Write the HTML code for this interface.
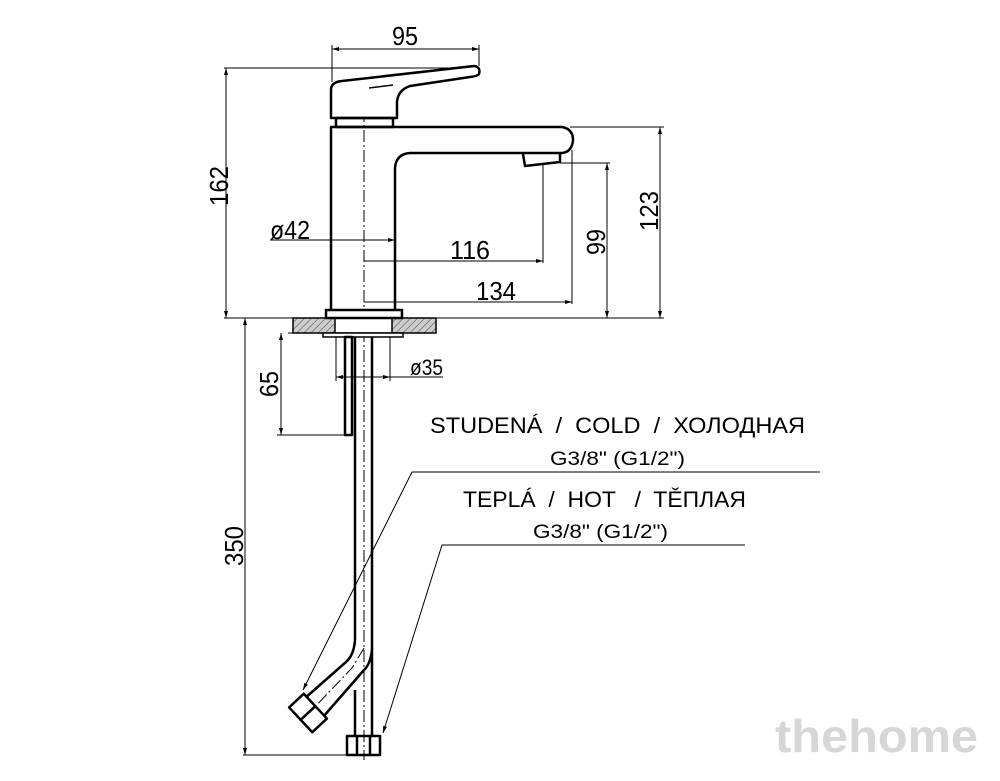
<!DOCTYPE html>
<html><head><meta charset="utf-8"><style>
html,body{margin:0;padding:0;background:#fff;}
svg{display:block;}
text{font-family:"Liberation Sans","DejaVu Sans",sans-serif;fill:#000;}
</style></head><body>
<svg width="1000" height="781" viewBox="0 0 1000 781" xmlns="http://www.w3.org/2000/svg">
<defs>
<pattern id="h" width="5" height="5" patternUnits="userSpaceOnUse" patternTransform="rotate(45)">
<rect width="5" height="5" fill="#ccc"/><line x1="0" y1="0" x2="0" y2="5" stroke="#555" stroke-width="1.2"/></pattern>
<marker id="a" markerWidth="8" markerHeight="8" refX="7" refY="4" orient="auto-start-reverse" markerUnits="userSpaceOnUse"><path d="M0,2 L7,4 L0,6z" fill="#000"/></marker>
</defs>
<g fill="none" stroke="#000" stroke-width="1">
<line x1="332" y1="49" x2="479" y2="49" marker-start="url(#a)" marker-end="url(#a)"/>
<line x1="332" y1="45" x2="332" y2="82"/><line x1="479" y1="45" x2="479" y2="66"/>
<line x1="224" y1="68" x2="478" y2="68"/>
<line x1="226" y1="68" x2="226" y2="318" marker-start="url(#a)" marker-end="url(#a)"/>
<line x1="224" y1="318" x2="664" y2="318"/>
<line x1="570" y1="127" x2="664" y2="127"/>
<line x1="660" y1="127" x2="660" y2="318" marker-start="url(#a)" marker-end="url(#a)"/>
<line x1="560" y1="163" x2="610" y2="163"/>
<line x1="607" y1="163" x2="607" y2="318" marker-start="url(#a)" marker-end="url(#a)"/>
<line x1="364" y1="261" x2="543" y2="261" marker-end="url(#a)"/>
<line x1="543" y1="163" x2="543" y2="263"/>
<line x1="364" y1="302" x2="572" y2="302" marker-end="url(#a)"/>
<line x1="572" y1="150" x2="572" y2="304"/>
<line x1="270" y1="240" x2="395" y2="240" marker-end="url(#a)"/>
<line x1="245" y1="318" x2="245" y2="755" marker-start="url(#a)" marker-end="url(#a)"/>
<line x1="243" y1="755" x2="352" y2="755"/>
<line x1="288" y1="333" x2="326" y2="333"/>
<line x1="281" y1="333" x2="281" y2="435" marker-start="url(#a)" marker-end="url(#a)"/>
<line x1="277" y1="435" x2="346" y2="435"/>
<line x1="336" y1="337" x2="336" y2="381"/><line x1="390" y1="337" x2="390" y2="381"/>
<line x1="336" y1="377" x2="443" y2="377" marker-start="url(#a)"/>
<line x1="372" y1="377" x2="390" y2="377" marker-end="url(#a)"/>
<polyline points="820,472 412,472 303,690" marker-end="url(#a)"/>
<polyline points="745,545 442,545 383,733" marker-end="url(#a)"/>
<line x1="364" y1="110" x2="364" y2="760" stroke-dasharray="12,3,2,3"/>
<polyline points="364,648 352,668 310,712" stroke-dasharray="12,3,2,3"/>
</g>
<rect x="293" y="318" width="143" height="15" fill="url(#h)" stroke="#000" stroke-width="1.5"/>
<rect x="335" y="318" width="57" height="15" fill="#fff" stroke="#000" stroke-width="1.5"/>
<rect x="323" y="333" width="80" height="4" fill="#fff" stroke="#000" stroke-width="1.5"/>
<g fill="none" stroke="#000" stroke-width="2.5" stroke-linejoin="round">
<path d="M331,118 L331,90 Q331,82 342,81 L474,66 Q481,67 479,74 Q478,76 470,77 L410,86 Q398,90 397,102 L397,118 Z" fill="#fff"/>
<line x1="369" y1="88" x2="393" y2="85" stroke-width="1.5"/>
<rect x="336" y="118" width="57" height="9"/>
<path d="M331,310 L331,127 L562,127 Q573,129 573,140 Q572,152 562,153 L410,153 Q396,154 395,168 L395,310"/>
<path d="M523,154 L525,166 L560,162 L560,153"/>
<rect x="326" y="310" width="76" height="8" fill="#fff"/>
<rect x="345" y="337" width="7" height="98"/>
<line x1="355" y1="337" x2="355" y2="640"/>
<line x1="372" y1="337" x2="372" y2="736"/>
<path d="M355,640 Q354,655 346,662 L304,699"/>
<path d="M372,650 Q370,665 364,670 L323,717"/>
<line x1="355" y1="690" x2="355" y2="736"/>
<rect x="347" y="736" width="33" height="19"/>
<line x1="357" y1="736" x2="357" y2="755"/><line x1="370" y1="736" x2="370" y2="755"/>
<g transform="translate(308,713) rotate(47)">
<rect x="-17" y="-10" width="34" height="20" fill="#fff"/>
<line x1="0" y1="-10" x2="0" y2="10"/>
</g>
</g>
<g font-size="26">
<text x="405" y="45" text-anchor="middle" textLength="26" lengthAdjust="spacingAndGlyphs">95</text>
<text x="270" y="239" textLength="40" lengthAdjust="spacingAndGlyphs">ø42</text>
<text x="450" y="259" textLength="40" lengthAdjust="spacingAndGlyphs">116</text>
<text x="476" y="300" textLength="40" lengthAdjust="spacingAndGlyphs">134</text>
<text x="410" y="375" textLength="33" lengthAdjust="spacingAndGlyphs" font-size="22">ø35</text>
<text transform="translate(228,186) rotate(-90)" text-anchor="middle" textLength="40" lengthAdjust="spacingAndGlyphs">162</text>
<text transform="translate(658,211) rotate(-90)" text-anchor="middle" textLength="40" lengthAdjust="spacingAndGlyphs">123</text>
<text transform="translate(605,242) rotate(-90)" text-anchor="middle" textLength="26" lengthAdjust="spacingAndGlyphs">99</text>
<text transform="translate(278,384) rotate(-90)" text-anchor="middle" textLength="26" lengthAdjust="spacingAndGlyphs">65</text>
<text transform="translate(243,546) rotate(-90)" text-anchor="middle" textLength="40" lengthAdjust="spacingAndGlyphs">350</text>
</g>
<g font-size="22">
<text x="430" y="433" textLength="375" lengthAdjust="spacingAndGlyphs" xml:space="preserve">STUDENÁ  /  COLD  /  ХОЛОДНАЯ</text>
<text x="463" y="507" textLength="283" lengthAdjust="spacingAndGlyphs" xml:space="preserve">TEPLÁ  /  HOT   /  TĚПЛАЯ</text>
</g>
<g font-size="19">
<text x="550" y="465" textLength="135" lengthAdjust="spacingAndGlyphs">G3/8" (G1/2")</text>
<text x="533" y="538" textLength="135" lengthAdjust="spacingAndGlyphs">G3/8" (G1/2")</text>
</g>
<text x="775" y="752" font-size="46" font-weight="bold" style="fill:#d6d6d6" textLength="203" lengthAdjust="spacingAndGlyphs">thehome</text>
</svg>
</body></html>
